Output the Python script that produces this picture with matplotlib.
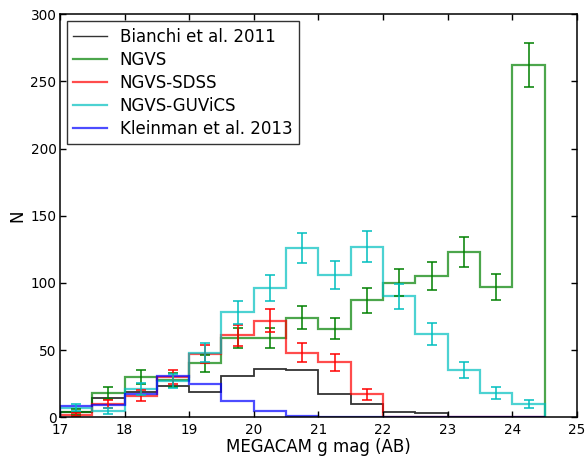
import numpy as np
import matplotlib
matplotlib.use("Agg")
import matplotlib.pyplot as plt
from matplotlib.lines import Line2D

# bins of 0.5 mag, 17 -> 24.5
bin_edges = [17.0, 17.5, 18.0, 18.5, 19.0, 19.5, 20.0, 20.5, 21.0,
             21.5, 22.0, 22.5, 23.0, 23.5, 24.0, 24.5]

bianchi = [4, 14, 19, 23, 19, 31, 36, 35, 17, 10, 4, 3, 0, 0, 0]
ngvs = [4, 18, 30, 28, 40, 59, 59, 74, 66, 87, 100, 105, 123, 97, 262]
ngvs_sdss = [2, 10, 16, 30, 47, 61, 72, 48, 41, 17, 0, 0, 0, 0, 0]
ngvs_guvics = [7, 5, 21, 27, 48, 78, 96, 126, 106, 127, 90, 62, 35, 18, 10]
kleinman = [8, 9, 17, 31, 25, 12, 5, 1, 0, 0, 0, 0, 0, 0, 0]

labels = ["Bianchi et al. 2011", "NGVS", "NGVS-SDSS", "NGVS-GUViCS",
          "Kleinman et al. 2013"]

plt.rcParams["font.family"] = "DejaVu Sans"
plt.rcParams["font.size"] = 12

fig = plt.figure(figsize=(5.87, 4.57), dpi=100)
ax = fig.add_axes([0.102, 0.087, 0.881, 0.882])

edges = np.array(bin_edges)
centers = 0.5 * (edges[:-1] + edges[1:])

ax.stairs(bianchi, edges, color="k", lw=1.3, alpha=0.8, baseline=0)

handles = [Line2D([], [], color="k", lw=1.0, alpha=0.8)]
for vals, col in [(ngvs, "g"), (ngvs_sdss, "r"), (ngvs_guvics, "c"),
                  (kleinman, "b")]:
    st = ax.stairs(vals, edges, edgecolor=col, lw=1.6, alpha=0.7,
                   baseline=0)
    handles.append(st)

# Poisson error bars for the NGVS samples
for vals, col in [(ngvs, "g"), (ngvs_sdss, "r"), (ngvs_guvics, "c")]:
    v = np.array(vals, dtype=float)
    m = v > 0
    ax.errorbar(centers[m], v[m], yerr=np.sqrt(v[m]), fmt="none",
                ecolor=col, elinewidth=1.1, capsize=3.5, capthick=1.1)

ax.set_xlim(17, 25)
ax.set_ylim(0, 300)
ax.set_xticks(range(17, 26))
ax.set_yticks(range(0, 301, 50))
ax.tick_params(direction="in", top=True, right=True, length=4, width=1,
               labelsize=9.8)
ax.tick_params(axis="x", pad=4.5)
ax.tick_params(axis="y", pad=2.5)
ax.set_xlabel("MEGACAM g mag (AB)", labelpad=0.5)
ax.set_ylabel("N", labelpad=3)
for sp in ax.spines.values():
    sp.set_linewidth(1.1)

leg = ax.legend(handles, labels, loc="upper left", fontsize=12,
                handlelength=2.0, fancybox=False, borderaxespad=0.4,
                labelspacing=0.3)
leg.get_frame().set_edgecolor("k")

plt.savefig("out.png", dpi=100)
